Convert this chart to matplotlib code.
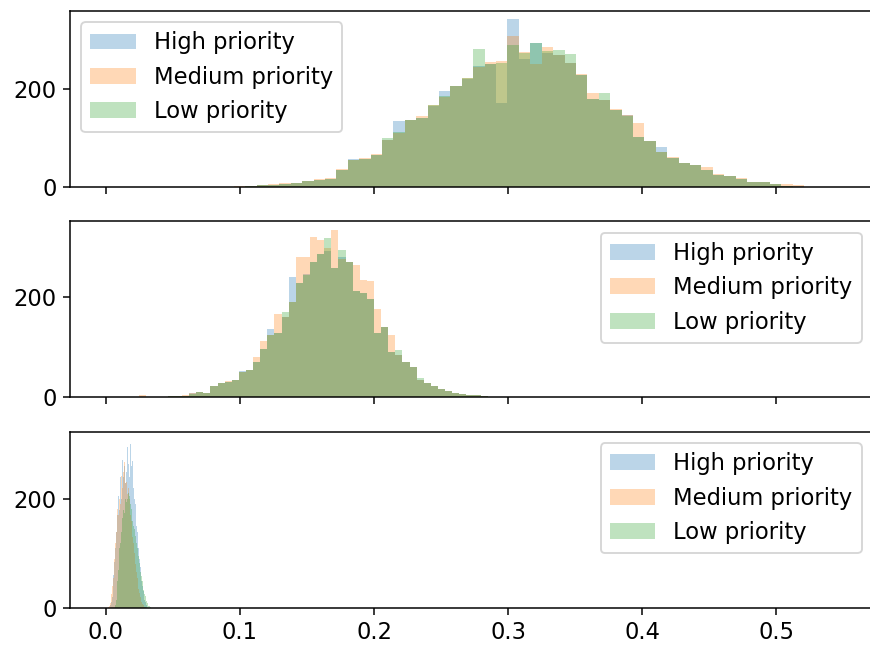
import numpy as np
import matplotlib
matplotlib.use("Agg")
import matplotlib.pyplot as plt

plt.rcParams["font.size"] = 12

labels = ["High priority", "Medium priority", "Low priority"]
colors = ["C0", "C1", "C2"]

# ---- Panel 1 (top): 50 bins per series ----
top_range = (0.0955, 0.5205)
top_high = [0, 2, 3, 4, 6, 8, 12, 15, 17, 34, 58, 58, 65, 96, 134, 137, 142, 165, 196, 206,
            220, 247, 251, 172, 343, 262, 295, 275, 270, 254, 230, 180, 178, 158, 148, 103, 93, 82, 60, 48,
            45, 35, 24, 22, 16, 9, 9, 5, 2, 1]
top_medium = [1, 2, 3, 5, 7, 8, 12, 16, 18, 36, 55, 60, 68, 96, 110, 137, 145, 168, 185, 206,
              222, 245, 255, 258, 309, 276, 251, 286, 270, 254, 232, 192, 178, 160, 148, 130, 93, 72, 62, 48,
              45, 41, 26, 22, 18, 9, 10, 5, 6, 3]
top_low = [0, 2, 3, 4, 6, 8, 12, 15, 17, 34, 55, 58, 65, 100, 112, 137, 142, 168, 186, 206,
           222, 282, 251, 254, 290, 275, 295, 278, 280, 273, 230, 180, 192, 158, 146, 103, 93, 72, 60, 48,
           45, 35, 24, 22, 16, 9, 9, 5, 2, 0]

# ---- Panel 2 (middle) ----
mid_range = (0.0251, 0.2901)
mid_high = [0, 1, 0, 1, 2, 3, 3, 8, 10, 9, 23, 29, 30, 35, 52, 55, 70, 97, 136, 128,
            159, 239, 228, 245, 270, 285, 290, 257, 280, 270, 212, 208, 195, 127, 140, 91, 85, 71, 61, 35,
            29, 22, 17, 12, 9, 7, 5, 4, 3, 1]
mid_medium = [4, 1, 0, 1, 2, 3, 4, 8, 10, 9, 23, 29, 32, 35, 50, 55, 81, 112, 123, 166,
              159, 189, 280, 280, 319, 313, 296, 333, 275, 270, 264, 234, 232, 176, 140, 123, 85, 71, 61, 35,
              29, 22, 17, 12, 9, 7, 5, 4, 3, 1]
mid_low = [0, 0, 1, 1, 2, 3, 3, 7, 10, 9, 22, 29, 30, 35, 50, 55, 70, 97, 123, 128,
           169, 189, 228, 244, 270, 285, 316, 257, 293, 270, 212, 208, 195, 127, 140, 91, 94, 71, 61, 38,
           29, 22, 17, 12, 9, 7, 5, 4, 3, 1]

# ---- Panel 3 (bottom) ----
bot_high_range = (0.003, 0.031)
bot_high = [2, 5, 10, 20, 40, 60, 85, 110, 140, 200, 170, 206, 180, 210, 240, 200, 271, 220, 240, 260,
            230, 280, 250, 296, 265, 308, 240, 302, 260, 230, 270, 220, 200, 180, 190, 150, 140, 120, 110, 90,
            75, 60, 50, 40, 30, 22, 15, 10, 5, 2]
bot_medium_range = (0.002, 0.030)
bot_medium = [1, 3, 8, 15, 25, 40, 55, 70, 90, 120, 140, 160, 181, 170, 200, 218, 190, 243, 220, 274,
              250, 268, 230, 245, 231, 210, 220, 190, 200, 170, 160, 150, 130, 120, 100, 90, 80, 65, 55, 45,
              35, 28, 20, 15, 10, 7, 5, 3, 2, 1]
bot_low_range = (0.007, 0.034)
bot_low = [5, 15, 30, 50, 70, 90, 110, 120, 140, 150, 165, 180, 175, 190, 200, 195, 206, 200, 212, 205,
           200, 190, 181, 170, 160, 150, 144, 135, 132, 120, 110, 100, 95, 83, 75, 65, 58, 50, 40, 32,
           25, 21, 15, 12, 9, 6, 4, 3, 2, 1]

panels = [
    ([top_range] * 3, [top_high, top_medium, top_low], "upper left"),
    ([mid_range] * 3, [mid_high, mid_medium, mid_low], "upper right"),
    ([bot_high_range, bot_medium_range, bot_low_range], [bot_high, bot_medium, bot_low], "upper right"),
]

fig, axes = plt.subplots(3, 1, sharex=True, figsize=(870 / 136, 650 / 136), dpi=136)
fig.subplots_adjust(left=0.0805, right=1.0035, top=0.983, bottom=0.065, hspace=0.197)

for ax, (ranges, series, loc) in zip(axes, panels):
    for (lo, hi), counts, lab, col in zip(ranges, series, labels, colors):
        counts = np.asarray(counts, dtype=float)
        edges = np.linspace(lo, hi, len(counts) + 1)
        centers = 0.5 * (edges[:-1] + edges[1:])
        ax.hist(centers, bins=edges, weights=counts, alpha=0.3, color=col, label=lab)
    ax.set_yticks([0, 200])
    ax.legend(loc=loc)

axes[-1].set_xlim(-0.0266, 0.572)
axes[-1].set_xticks([0.0, 0.1, 0.2, 0.3, 0.4, 0.5])

fig.savefig("out.png", dpi=136)
